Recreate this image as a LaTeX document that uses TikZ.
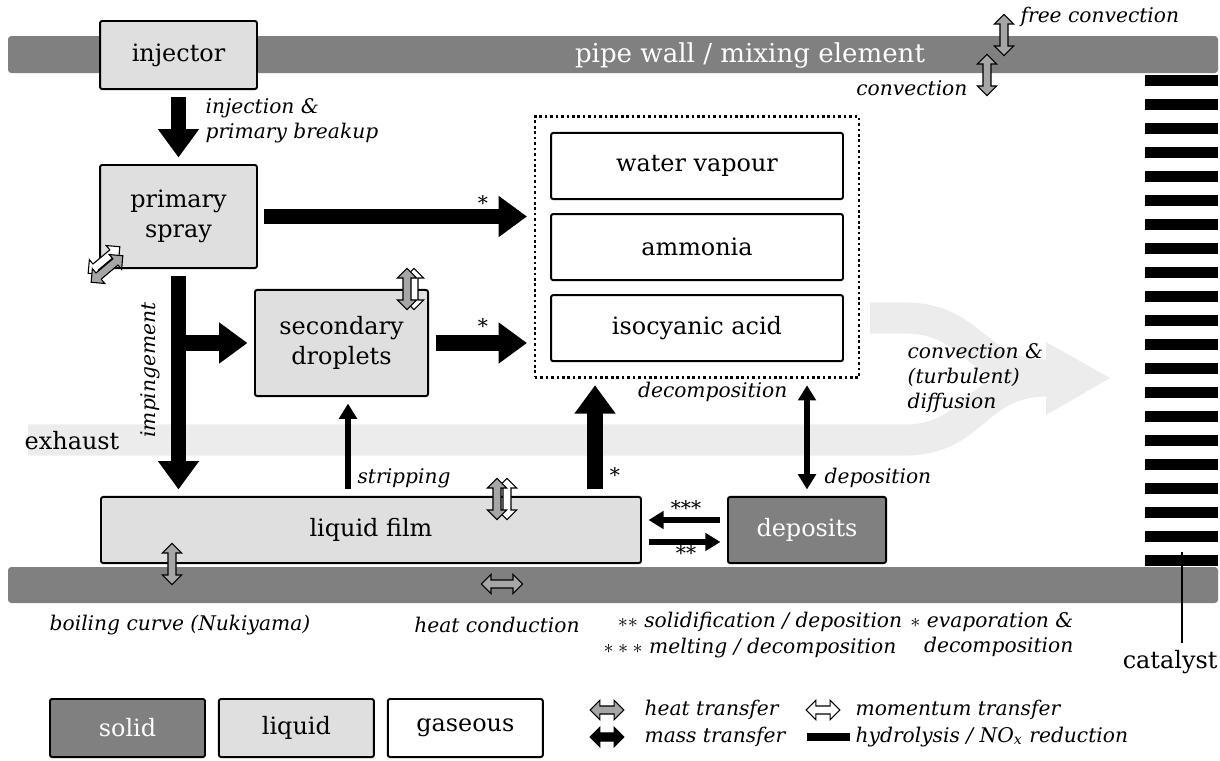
\documentclass[tikz,border=0pt]{standalone}
\usepackage{fontspec}
\setmainfont{DejaVu Serif}
\usetikzlibrary{positioning,shapes.arrows,fit,arrows.meta}

\tikzset{
  phase/.style={draw, line width=0.9pt, rounded corners=1pt, align=center, inner sep=0pt},
  liquidbox/.style={phase, fill=gray!25},
  solidbox/.style={phase, fill=gray, text=white},
  gasbox/.style={phase, fill=white},
  wall/.style={fill=gray, rounded corners=1.5pt},
  lbl/.style={font=\fontsize{9.3}{11.5}\selectfont\itshape, inner sep=1pt},
  mass/.style={line width=7pt, >={Triangle[length=13pt,width=18pt]}, ->, shorten <=3pt, shorten >=3pt},
  massthin/.style={line width=2.6pt, >={Triangle[length=7pt,width=8pt]}, ->, shorten <=3pt, shorten >=3pt},
  xfer/.style={double arrow, draw=black, line width=0.5pt, inner xsep=0pt, inner ysep=1.6pt,
    double arrow head extend=2.6pt, minimum height=19pt, text height=0pt, text depth=0pt},
  heat/.style={xfer, fill=gray!70},
  momentum/.style={xfer, fill=white},
  masssym/.style={xfer, fill=black},
  stream/.style={draw=gray!15, line width=14.3pt},
}

\begin{document}
\begin{tikzpicture}[x=0.46pt, y=-0.46pt, font=\fontsize{11}{14}\selectfont]
  \useasboundingbox (0,0) rectangle (1220,760);

  % exhaust stream behind everything
  \draw[stream] (28,440) -- (905,440) .. controls (975,440) and (975,381) .. (1047,381);
  \draw[stream] (870,318) -- (905,318) .. controls (975,318) and (975,375) .. (1047,375);
  \fill[gray!15] (1046,342) -- (1110,378) -- (1046,415) -- cycle;
  \node (exhaust) at (72,441) {exhaust};

  % pipe wall and catalyst
  \fill[wall] (8,36) rectangle (1218,73);
  \fill[wall] (8,567) rectangle (1218,603);
  \node[text=white, font=\fontsize{12}{14}\selectfont] (pipe) at (750,55) {pipe wall / mixing element};
  \foreach \i in {0,...,20}
    \fill (1145,75+24*\i) rectangle (1218,86+24*\i);

  % Define the nodes of the liquid and solid phase
  \node[liquidbox, minimum width=72.2pt, minimum height=31.3pt] (injector) at (178.5,55) {injector};
  \node[liquidbox, minimum width=72.2pt, minimum height=47.4pt] (spray) at (178.5,216.5) {primary\\spray};
  \node[liquidbox, minimum width=79.6pt, minimum height=48.8pt] (droplets) at (341.5,343) {secondary\\droplets};
  \node[liquidbox, minimum width=248.4pt, minimum height=30.4pt] (film) at (371,530) {liquid film};
  \node[solidbox, minimum width=72.7pt, minimum height=30.4pt] (deposits) at (807,530) {deposits};

  % Define the gaseous species
  \node[gasbox, minimum width=134.3pt, minimum height=30.4pt] (water) at (697,166) {water vapour};
  \node[gasbox, minimum width=134.3pt, minimum height=30.4pt, below=6pt of water] (ammonia) {ammonia};
  \node[gasbox, minimum width=134.3pt, minimum height=30.4pt, below=6pt of ammonia] (hnco) {isocyanic acid};
  \node[draw, line width=1.2pt, dash pattern=on 1.2pt off 1.3pt, fit=(water)(hnco), inner sep=7pt] (gas) {};

  % Draw the mass transfer arrows
  \draw[mass] (injector) -- (spray);
  \draw[mass] (spray) -- (spray -| gas.west);
  \draw[mass] (spray.south) -- (spray.south |- film.north);
  \draw[mass, shorten <=0pt] (spray.south |- droplets.west) -- (droplets.west);
  \draw[mass] (droplets) -- (droplets -| gas.west);
  \draw[mass] ([xshift=-21.6pt]film.north east) -- ([xshift=-21.6pt]film.north east |- gas.south);
  \draw[massthin] ([xshift=3pt]droplets.south |- film.north) -- ([xshift=3pt]droplets.south);
  \draw[massthin, <->] (deposits.north) -- (deposits.north |- gas.south);
  \draw[massthin] ([yshift=4.6pt]deposits.west) -- ([yshift=4.6pt]deposits.west -| film.east);
  \draw[massthin] ([yshift=-5.5pt]film.east) -- ([yshift=-5.5pt]film.east -| deposits.west);

  % labels of the arrows
  \node[lbl, anchor=west, align=left] (injlbl) at (203,121) {injection \&\\primary breakup};
  \node[lbl] (ast1) at (483,203) {*};
  \node[lbl] (ast2) at (483,326) {*};
  \node[lbl] (ast3) at (615,475) {*};
  \node[lbl, rotate=90] (imp) at (150,370) {impingement};
  \node[lbl, anchor=west] (strip) at (355,478) {stripping};
  \node[lbl, anchor=east] (decomp) at (790,392) {decomposition};
  \node[lbl, anchor=west] (depo) at (822,478) {deposition};
  \node[lbl] (ast4) at (686,508) {***};
  \node[lbl] (ast5) at (686,553) {**};
  \node[lbl, anchor=west, align=left] (diffusion) at (905,378) {convection \&\\(turbulent)\\diffusion};
  \node[lbl, anchor=east] (conv) at (970,88) {convection};
  \node[lbl, anchor=west] (freeconv) at (1018,17) {free convection};
  \node[lbl] (boiling) at (180,625) {boiling curve (Nukiyama)};
  \node[lbl] (conduction) at (497,625) {heat conduction};
  \node[lbl] (note2) at (760,622) {{\small$\ast\ast$} solidification / deposition};
  \node[lbl] (note3) at (750,648) {{\small$\ast\ast\ast$} melting / decomposition};
  \node[lbl, anchor=east, align=right] (note1) at (1076,635) {{\small$\ast$} evaporation \&\\decomposition};

  % catalyst label
  \node[anchor=east, inner xsep=1pt] (catalyst) at (1220,662) {catalyst};
  \coordinate (catbar) at (1182,552);
  \draw[line width=1pt] (catalyst.north -| catbar) -- (catbar);

  % heat and momentum transfer symbols
  \node[momentum, rotate=40] (mom1) at (104,260) {};
  \node[heat, rotate=40] (heat1) at (107,269) {};
  \node[momentum, rotate=90] (mom2) at (414,289) {};
  \node[heat, rotate=90] (heat2) at (407,289) {};
  \node[momentum, rotate=90] (mom3) at (507,499) {};
  \node[heat, rotate=90] (heat3) at (497,499) {};
  \node[heat, rotate=90] (heat4) at (172,564) {};
  \node[heat] (heat5) at (502,584) {};
  \node[heat, rotate=90] (heat6) at (1004,35) {};
  \node[heat, rotate=90] (heat7) at (987,75) {};

  % legend
  \node[solidbox, minimum width=71.3pt, minimum height=26.7pt] (lgsolid) at (127.5,728) {solid};
  \node[liquidbox, minimum width=71.3pt, minimum height=26.7pt, right=5.5pt of lgsolid] (lgliquid) {liquid};
  \node[gasbox, minimum width=71.3pt, minimum height=26.7pt, right=5.5pt of lgliquid] (lggas) {gaseous};
  \node[heat, minimum height=15.5pt] (lgheat) at (607,710) {};
  \node[masssym, minimum height=15.5pt] (lgmass) at (607,737) {};
  \node[lbl, right=8pt of lgheat] (lgheattxt) {heat transfer};
  \node[lbl, right=8pt of lgmass] (lgmasstxt) {mass transfer};
  \node[momentum, minimum height=15.5pt] (lgmom) at (823,710) {};
  \node[fill, minimum width=19.8pt, minimum height=3.7pt, inner sep=0pt] (lgcat) at (828.5,737) {};
  \node[lbl, anchor=west] (lgmomtxt) at (853,710) {momentum transfer};
  \node[lbl, anchor=west] (lgcattxt) at (853,737) {hydrolysis / NO\textsubscript{x} reduction};
\end{tikzpicture}
\end{document}
